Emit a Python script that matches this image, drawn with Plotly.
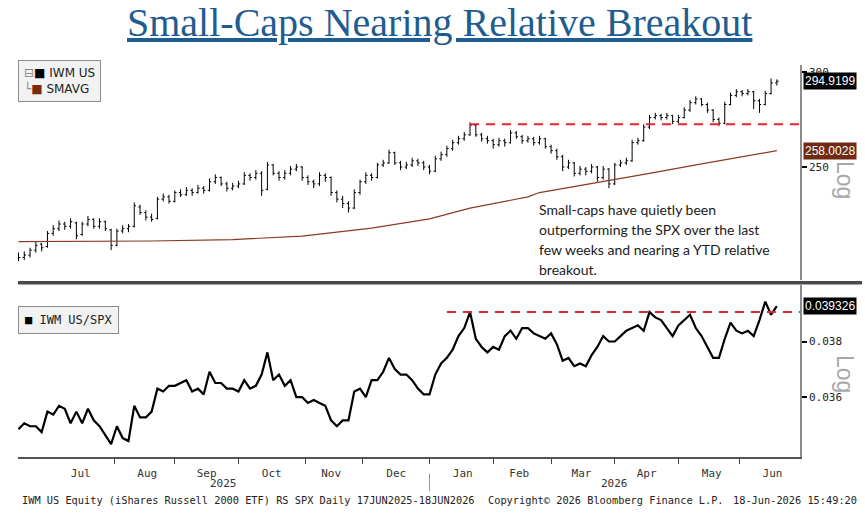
import pandas as pd
import numpy as np
import plotly.graph_objects as go

# IWM US daily bars, sampled every second business day from 17-Jun-2025 to 18-Jun-2026
iwm_open = [211, 210, 211, 213, 215.5, 214.5, 220, 222, 224, 223,
            224.5, 219.5, 224, 226, 223, 225, 221.5, 215, 221, 222,
            223, 231.5, 229, 227, 226.5, 235, 236, 234, 238, 237,
            239, 238, 240, 239, 243, 245, 242, 240, 241, 242,
            246, 245, 247, 239.5, 251, 247, 245, 247, 249, 250,
            245, 243, 242, 246, 245, 238, 235, 233, 231, 238,
            243, 246, 245, 251, 252, 257, 252, 250, 251, 253,
            252, 250, 248, 254, 256, 259, 262, 264, 266, 271,
            266, 264, 263, 261, 263, 262, 267, 265, 263, 264,
            262, 264, 260, 258, 255, 250, 252, 247, 249, 248,
            250, 245, 249, 242, 251, 252, 253, 262, 263, 270,
            275, 276, 275, 276, 273, 275, 279, 283, 285, 282,
            279, 274, 272, 282, 287, 289, 288, 289, 284, 282,
            288, 294]
iwm_high = [212, 212.5, 214, 216.5, 216, 221, 223.5, 225.5, 225, 226.5,
            225, 225, 227.5, 226.5, 226.5, 225.5, 222, 222, 223.5, 224,
            233.5, 232.5, 230, 228.5, 236, 237.5, 237, 239, 239.5, 240.5,
            240, 241.5, 241, 244.5, 246.5, 245.5, 243, 242.5, 243.5, 247.5,
            247, 248.5, 248, 252.5, 251.5, 248, 248.5, 250.5, 251.5, 250.5,
            246, 244, 247.5, 247, 245.5, 239, 236.5, 234, 239.5, 244,
            247.5, 247, 252, 253.5, 258.5, 257.5, 253, 252.5, 254.5, 254,
            253, 251, 255.5, 257.5, 260.5, 263.5, 265.5, 267.5, 272.5, 271.5,
            267, 265.5, 264, 264.5, 264, 268.5, 268, 266, 265.5, 265,
            265.5, 264.5, 261, 259, 256, 253.5, 252.5, 250.5, 250, 251.5,
            250.5, 250.5, 249.5, 252, 253.5, 254.5, 263.5, 264.5, 271.5, 276.5,
            277.5, 277, 277.5, 276.5, 276.5, 280.5, 284.5, 286.5, 285.5, 283,
            279.5, 275, 283.5, 288.5, 290.5, 290, 290.5, 289.5, 285, 289.5,
            296.5, 296]
iwm_low = [208.5, 209, 210, 212, 212.5, 214, 219, 221, 221.5, 222,
           217.5, 219, 223, 222, 222, 221, 213, 214.5, 220, 220.5,
           222.5, 228, 225.5, 225, 226, 234, 233, 233.5, 236, 236.5,
           236.5, 237.5, 237.5, 238.5, 242, 241, 238.5, 239, 240, 241.5,
           243.5, 244, 236.5, 239, 246, 243.5, 244, 246, 248, 243.5,
           241.5, 240, 241, 243, 236.5, 233.5, 231, 229, 230.5, 237,
           242, 243.5, 244.5, 250, 251.5, 251, 248.5, 249, 250, 250.5,
           248.5, 246.5, 247.5, 253, 255, 258, 261, 263, 265.5, 265,
           262.5, 261.5, 259, 260, 260, 261.5, 264, 261.5, 262, 260.5,
           261, 259, 256.5, 253.5, 248, 249, 245.5, 246, 246, 247,
           243, 244, 240, 241.5, 250, 251, 252.5, 261, 262.5, 269,
           274, 273.5, 274, 271.5, 272, 274.5, 278, 282, 281, 277.5,
           272.5, 270.5, 271.5, 281.5, 286, 286.5, 287, 279.5, 277.5, 281.5,
           287.5, 292.5]
iwm_close = [210, 211, 213, 215, 214, 220, 222, 224, 223, 225,
             219, 224, 226, 223, 225, 222, 215, 221, 222, 223,
             232, 229, 227, 226, 235, 236, 234, 238, 237, 239,
             238, 240, 239, 243, 245, 242, 240, 241, 242, 246,
             245, 247, 239, 251, 247, 245, 247, 249, 250, 245,
             243, 242, 246, 245, 238, 235, 233, 231, 238, 243,
             246, 245, 251, 252, 257, 252, 250, 251, 253, 252,
             250, 248, 254, 256, 259, 262, 264, 266, 271, 266,
             264, 263, 261, 263, 262, 267, 265, 263, 264, 262,
             264, 260, 258, 255, 250, 252, 247, 249, 248, 250,
             245, 249, 242, 251, 252, 253, 262, 263, 270, 275,
             276, 275, 276, 273, 275, 279, 283, 285, 282, 279,
             274, 272, 282, 287, 289, 288, 289, 284, 282, 288,
             294, 294.9199]

# moving average (SMAVG), read at a few of the bar dates
sma_idx = [0, 14, 23, 37, 49, 61, 71, 78, 88, 90, 101, 109, 118, 125, 131]
sma_vals = [216.5, 216.6, 216.8, 217.4, 218.8, 222.2, 226.2, 231, 236, 238,
            243, 247, 251.5, 254.8, 258.0028]

# IWM US / SPX relative strength
rs_ratio = [0.0349, 0.0351, 0.0350, 0.0350, 0.0348, 0.0355, 0.0354, 0.0357, 0.0356, 0.0351,
            0.0355, 0.0351, 0.0356, 0.0352, 0.0350, 0.0347, 0.0344, 0.0350, 0.0346, 0.0345,
            0.0357, 0.0353, 0.0353, 0.0355, 0.0363, 0.0362, 0.0364, 0.0364, 0.0365, 0.0366,
            0.0362, 0.0363, 0.0361, 0.0369, 0.0365, 0.0365, 0.0363, 0.0363, 0.0362, 0.0366,
            0.0363, 0.0364, 0.0368, 0.0376, 0.0366, 0.0368, 0.0364, 0.0366, 0.0360, 0.0360,
            0.0358, 0.0359, 0.0358, 0.0357, 0.0352, 0.0350, 0.0352, 0.0352, 0.0362, 0.0363,
            0.0360, 0.0366, 0.0366, 0.0369, 0.0374, 0.0370, 0.0368, 0.0368, 0.0366, 0.0363,
            0.0361, 0.0361, 0.0368, 0.0372, 0.0374, 0.0377, 0.0382, 0.0385, 0.0391, 0.0381,
            0.0378, 0.0376, 0.0378, 0.0377, 0.0382, 0.0384, 0.0381, 0.0385, 0.0385, 0.0383,
            0.0382, 0.0381, 0.0383, 0.0379, 0.0373, 0.0374, 0.0371, 0.0372, 0.0371, 0.0375,
            0.0378, 0.0382, 0.0380, 0.0380, 0.0382, 0.0384, 0.0385, 0.0386, 0.0384, 0.0391,
            0.0389, 0.0388, 0.0385, 0.0382, 0.0386, 0.0388, 0.0390, 0.0385, 0.0382, 0.0378,
            0.0374, 0.0374, 0.0381, 0.0387, 0.0384, 0.0383, 0.0384, 0.0382, 0.0388, 0.0395,
            0.0390, 0.039326]

# breakout levels (red dashed lines)
iwm_level = 271.5
iwm_level_start = "2026-01-21"
rs_level = 0.0391
rs_level_start = "2026-01-09"

x_start = "2025-06-16 20:00"
x_end = "2026-06-30"

comment_lines = ["Small-caps have quietly been",
                 "outperforming the SPX over the last",
                 "few weeks and nearing a YTD relative",
                 "breakout."]

dates = pd.bdate_range("2025-06-17", periods=len(iwm_close), freq="2B")
sma_dates = dates[sma_idx]

MONO = "DejaVu Sans Mono"
SANS = "Liberation Sans"


# pixel -> paper helpers (plot area spans x 18..800, y 65..457)
def px_x(x):
    return (x - 18) / 782


def px_y(y):
    return (457 - y) / 392


fig = go.Figure()

fig.add_trace(go.Ohlc(
    x=dates, open=iwm_open, high=iwm_high, low=iwm_low, close=iwm_close,
    increasing_line_color="black", decreasing_line_color="black",
    line_width=1, tickwidth=0.3, yaxis="y2", hoverinfo="skip"
))
fig.add_trace(go.Scatter(
    x=sma_dates, y=sma_vals, mode="lines",
    line=dict(color="#8a3b22", width=1.2), yaxis="y2"
))
fig.add_trace(go.Scatter(
    x=[iwm_level_start, x_end], y=[iwm_level, iwm_level], mode="lines",
    line=dict(color="#e3262b", width=2, dash="9px,7px"), yaxis="y2"
))
fig.add_trace(go.Scatter(
    x=dates, y=rs_ratio, mode="lines",
    line=dict(color="black", width=2.2), yaxis="y"
))
fig.add_trace(go.Scatter(
    x=[rs_level_start, x_end], y=[rs_level, rs_level], mode="lines",
    line=dict(color="#e3262b", width=2, dash="9px,7px"), yaxis="y"
))

right_axis = dict(
    type="log", side="right", anchor="x", showgrid=False, zeroline=False,
    showline=True, linecolor="#8c8c8c", linewidth=1.5,
    ticks="outside", ticklen=5, tickwidth=2, tickcolor="black",
    tickfont=dict(family=MONO, size=11, color="#222"),
)

fig.update_layout(
    width=865, height=517,
    margin=dict(l=18, r=65, t=65, b=60),
    paper_bgcolor="white", plot_bgcolor="white",
    showlegend=False,
    xaxis=dict(
        type="date", range=[x_start, x_end],
        rangebreaks=[dict(bounds=["sat", "mon"])],
        rangeslider=dict(visible=False),
        dtick="M1", tick0="2025-01-01", tickformat="%b", ticklabelmode="period",
        ticks="outside", ticklen=5, tickcolor="#444",
        showline=True, linecolor="#555", linewidth=1.5,
        showgrid=False, zeroline=False, anchor="y",
        tickfont=dict(family=MONO, size=11, color="#333"),
    ),
    yaxis=dict(right_axis, domain=[0, 0.4388], range=[-1.4689, -1.3964],
               tickvals=[0.036, 0.038], ticktext=["0.036", "0.038"]),
    yaxis2=dict(right_axis, domain=[0.4515, 1], range=[2.3034, 2.4833],
                tickvals=[250, 300], ticktext=["250", "300"]),
)

# separator bar between the two panels
fig.add_shape(type="rect", xref="paper", yref="paper",
              x0=0, x1=px_x(862), y0=px_y(284.5), y1=px_y(281),
              fillcolor="#4a4a4a", line_width=0, layer="above")
# year divider under the axis
fig.add_shape(type="line", xref="x", yref="paper",
              x0="2026-01-01", x1="2026-01-01", y0=px_y(474), y1=px_y(491),
              line=dict(color="#999", width=1))

annotations = [
    dict(text="<u>Small-Caps Nearing Relative Breakout</u>", x=px_x(439), y=px_y(22),
         xanchor="center", yanchor="middle",
         font=dict(family="Liberation Serif", size=40, color="#1f5c8f")),
    # legends
    dict(text='<span style="color:#888">⊟</span><span style="color:#000">■</span> IWM US<br>'
              '<span style="color:#888">└</span><span style="color:#7a2a10">■</span> SMAVG',
         x=0, y=px_y(60), xanchor="left", yanchor="top", align="left",
         bgcolor="#f2f2f2", bordercolor="#8c8c8c", borderwidth=1, borderpad=5,
         font=dict(family="DejaVu Sans", size=12, color="#222")),
    dict(text='<span style="color:#000">■</span> IWM US/SPX',
         x=0, y=px_y(306), xanchor="left", yanchor="top", align="left",
         bgcolor="#f2f2f2", bordercolor="#8c8c8c", borderwidth=1, borderpad=6,
         font=dict(family=MONO, size=12, color="#222")),
    # Log markers (drawn before the value labels so the labels sit on top)
    dict(text="Log", x=px_x(845), y=px_y(180), textangle=90,
         xanchor="center", yanchor="middle",
         font=dict(family=SANS, size=23, color="#a8a8a8")),
    dict(text="Log", x=px_x(845), y=px_y(374), textangle=90,
         xanchor="center", yanchor="middle",
         font=dict(family=SANS, size=23, color="#a8a8a8")),
    # last value labels
    dict(text="294.9199", x=px_x(803), y=np.log10(iwm_close[-1]), yref="y2",
         xanchor="left", yanchor="middle", bgcolor="black", borderpad=1,
         font=dict(family=SANS, size=12, color="white")),
    dict(text="258.0028", x=px_x(803), y=np.log10(sma_vals[-1]), yref="y2",
         xanchor="left", yanchor="middle", bgcolor="#6e2a12", borderpad=1,
         font=dict(family=SANS, size=12, color="white")),
    dict(text="0.039326", x=px_x(803), y=np.log10(rs_ratio[-1]), yref="y",
         xanchor="left", yanchor="middle", bgcolor="black", borderpad=1,
         font=dict(family=SANS, size=12, color="white")),
    # year labels
    dict(text="2025", x="2025-09-24", xref="x", y=px_y(483),
         xanchor="center", yanchor="middle",
         font=dict(family=MONO, size=11, color="#333")),
    dict(text="2026", x="2026-04-01", xref="x", y=px_y(483),
         xanchor="center", yanchor="middle",
         font=dict(family=MONO, size=11, color="#333")),
    # footer
    dict(text="IWM US Equity (iShares Russell 2000 ETF) RS SPX Daily 17JUN2025-18JUN2026",
         x=px_x(20), y=px_y(500), xanchor="left", yanchor="middle",
         font=dict(family=MONO, size=10.3, color="#222")),
    dict(text="Copyright© 2026 Bloomberg Finance L.P.",
         x=px_x(486), y=px_y(500), xanchor="left", yanchor="middle",
         font=dict(family=MONO, size=10.3, color="#222")),
    dict(text="18-Jun-2026 15:49:20",
         x=px_x(859), y=px_y(500), xanchor="right", yanchor="middle",
         font=dict(family=MONO, size=10.3, color="#222")),
]
# commentary, one annotation per line to keep the 20px line spacing
for k, line in enumerate(comment_lines):
    annotations.append(dict(text=line, x=px_x(537), y=px_y(209 + 20.3 * k),
                            xanchor="left", yanchor="middle", align="left",
                            font=dict(family="Lato", size=14, color="#1a1a1a")))

for a in annotations:
    a.setdefault("xref", "paper")
    a.setdefault("yref", "paper")
    a.setdefault("showarrow", False)
    fig.add_annotation(**a)

# drop the default page margin so the figure sits at the window's top-left corner
fig.write_html("out.html", config={"displayModeBar": False},
               post_script="document.body.style.margin='0px';")
